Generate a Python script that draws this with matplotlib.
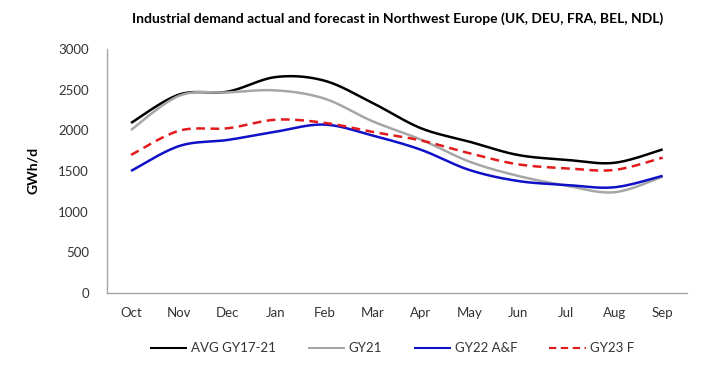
import numpy as np
import matplotlib
matplotlib.use("Agg")
import matplotlib.pyplot as plt

plt.rcParams['font.family'] = ['Lato', 'DejaVu Sans']

months = ["Oct", "Nov", "Dec", "Jan", "Feb", "Mar", "Apr", "May", "Jun", "Jul", "Aug", "Sep"]
avg_gy17_21 = [2090, 2440, 2475, 2655, 2610, 2335, 2025, 1860, 1697, 1637, 1600, 1765]
gy21 = [2004, 2425, 2465, 2490, 2390, 2110, 1885, 1615, 1440, 1320, 1238, 1430]
gy22_af = [1500, 1807, 1881, 1983, 2070, 1935, 1760, 1512, 1377, 1328, 1299, 1440]
gy23_f = [1697, 1995, 2025, 2130, 2092, 1980, 1875, 1718, 1582, 1533, 1512, 1664]
yticks = [0, 500, 1000, 1500, 2000, 2500, 3000]


def smooth(x, y, n=30):
    x = np.asarray(x, float)
    y = np.asarray(y, float)
    P = np.column_stack([x, y])
    m = len(P)
    out = []
    for i in range(m - 1):
        p0 = P[i - 1] if i > 0 else P[i]
        p1 = P[i]
        p2 = P[i + 1]
        p3 = P[i + 2] if i + 2 < m else P[i + 1]
        c1 = p1 + (p2 - p0) / 6.0
        c2 = p2 - (p3 - p1) / 6.0
        t = np.linspace(0, 1, n, endpoint=(i == m - 2))[:, None]
        seg = ((1 - t) ** 3) * p1 + 3 * ((1 - t) ** 2) * t * c1 + 3 * (1 - t) * t ** 2 * c2 + t ** 3 * p2
        out.append(seg)
    out = np.vstack(out)
    return out[:, 0], out[:, 1]


fig = plt.figure(figsize=(7.03, 3.68), dpi=100)
ax = fig.add_axes([0.152, 0.204, 0.825, 0.663])

x = np.arange(len(months))
series = [
    (avg_gy17_21, "AVG GY17-21", "#000000", "-"),
    (gy21, "GY21", "#A6A6A6", "-"),
    (gy22_af, "GY22 A&F", "#1010C8", "-"),
    (gy23_f, "GY23 F", "#E31A1C", (0, (3.5, 2.2))),
]
for vals, lab, col, ls in series:
    sx, sy = smooth(x, vals)
    ax.plot(sx, sy, color=col, lw=1.8, ls=ls, label=lab, solid_capstyle='butt', dash_capstyle='butt')

ax.set_xlim(-0.5, len(months) - 0.5)
ax.set_ylim(0, 3000)
ax.set_yticks(yticks)
ax.set_yticklabels([str(v) for v in yticks], fontsize=9.5, color="#333333")
ax.set_xticks(x)
ax.set_xticklabels(months, fontsize=9.5, color="#333333")
ax.tick_params(axis='both', length=0)
ax.tick_params(axis='y', pad=13)
ax.tick_params(axis='x', pad=10)
for s in ['top', 'right']:
    ax.spines[s].set_visible(False)
for s in ['left', 'bottom']:
    ax.spines[s].set_color("#A6A6A6")
    ax.spines[s].set_linewidth(1.0)

ax.set_ylabel("GWh/d", fontsize=10, fontweight='bold', labelpad=14)
fig.text(0.566, 0.95, "Industrial demand actual and forecast in Northwest Europe (UK, DEU, FRA, BEL, NDL)",
         ha='center', va='center', fontsize=10, fontweight='bold')

leg = fig.legend(loc='center', bbox_to_anchor=(0.558, 0.054), ncol=4, frameon=False,
                 fontsize=9.5, handlelength=2.8, columnspacing=2.4, handletextpad=0.3)
for ln in leg.get_lines():
    ln.set_linewidth(1.5)
for t in leg.get_texts():
    t.set_color("#333333")

fig.savefig("out.png", dpi=100)
